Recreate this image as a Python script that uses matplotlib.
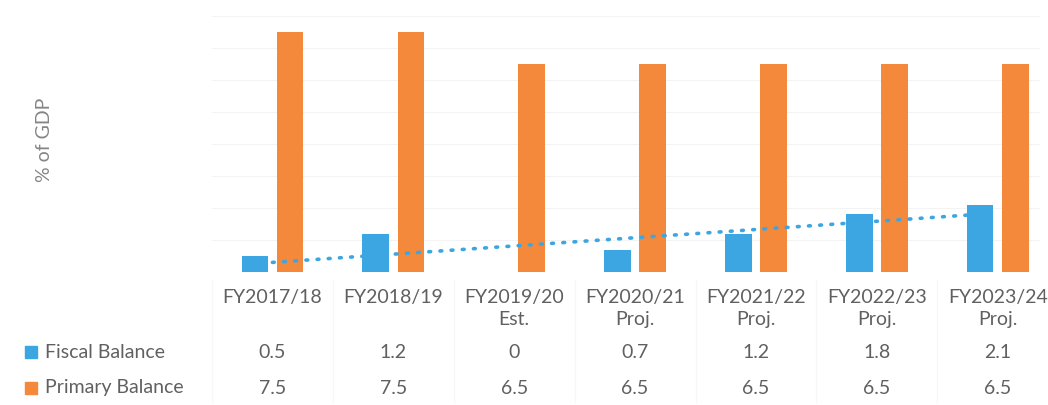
import matplotlib
matplotlib.use("Agg")
import matplotlib.pyplot as plt
import numpy as np
from matplotlib.transforms import blended_transform_factory
from matplotlib.patches import Rectangle

categories = ["FY2017/18", "FY2018/19", "FY2019/20\nEst.", "FY2020/21\nProj.",
              "FY2021/22\nProj.", "FY2022/23\nProj.", "FY2023/24\nProj."]
fiscal_balance = [0.5, 1.2, 0, 0.7, 1.2, 1.8, 2.1]
primary_balance = [7.5, 7.5, 6.5, 6.5, 6.5, 6.5, 6.5]
fiscal_labels = ["0.5", "1.2", "0", "0.7", "1.2", "1.8", "2.1"]
primary_labels = ["7.5", "7.5", "6.5", "6.5", "6.5", "6.5", "6.5"]
series_names = ["Fiscal Balance", "Primary Balance"]

BLUE = "#3BA6E2"
ORANGE = "#F4883B"
TEXT = "#606060"
FONT = ["Lato", "DejaVu Sans"]

W, H = 1048, 405
fig = plt.figure(figsize=(W / 100, H / 100), dpi=100)
fig.patch.set_facecolor("white")

left, right, top, base = 212, 1040, 16, 272
ax = fig.add_axes([left / W, (H - base) / H, (right - left) / W, (base - top) / H])
ax.set_ylim(0, 8)
ax.set_xlim(-0.5, 6.35)

x = np.arange(len(categories))
bw = 0.22
off = 0.145

for gy in range(1, 9):
    ax.axhline(gy, color="#f3f3f3", lw=0.8, zorder=0)

ax.bar(x - off, fiscal_balance, width=bw, color=BLUE, zorder=2)
ax.bar(x + off, primary_balance, width=bw, color=ORANGE, zorder=2)

coef = np.polyfit(x, fiscal_balance, 1)
trend = np.polyval(coef, x)
ax.plot(x, trend, linestyle=(0, (0.5, 2.6)), color=BLUE, lw=2.6,
        dash_capstyle="round", zorder=3)

for s in ax.spines.values():
    s.set_visible(False)
ax.set_xticks([])
ax.set_yticks([])

fig.text(45 / W, (H - 140) / H, "% of GDP", rotation=90, ha="center", va="center",
         fontsize=14, color="#858585", family=FONT)

trans = blended_transform_factory(ax.transData, fig.transFigure)

# faint table separators
for i in range(len(categories) + 1):
    xv = i - 0.5
    ax.plot([xv, xv], [(H - 280) / H, (H - 402) / H], transform=trans,
            color="#f7f7f7", lw=0.8, clip_on=False)

for i, cat in enumerate(categories):
    fig.text(i, (H - 289) / H, cat, transform=trans, ha="center", va="top",
             fontsize=14, color=TEXT, family=FONT, linespacing=1.35)
    fig.text(i, (H - 352) / H, fiscal_labels[i], transform=trans, ha="center",
             va="center", fontsize=14, color=TEXT, family=FONT)
    fig.text(i, (H - 388) / H, primary_labels[i], transform=trans, ha="center",
             va="center", fontsize=14, color=TEXT, family=FONT)

for yy, col, name in [(352, BLUE, series_names[0]), (388, ORANGE, series_names[1])]:
    fig.add_artist(Rectangle((25 / W, (H - yy - 6) / H), 12 / W, 12 / H,
                             transform=fig.transFigure, color=col))
    fig.text(45 / W, (H - yy) / H, name, ha="left", va="center",
             fontsize=14, color=TEXT, family=FONT)

fig.savefig("out.png", dpi=100, facecolor="white")
